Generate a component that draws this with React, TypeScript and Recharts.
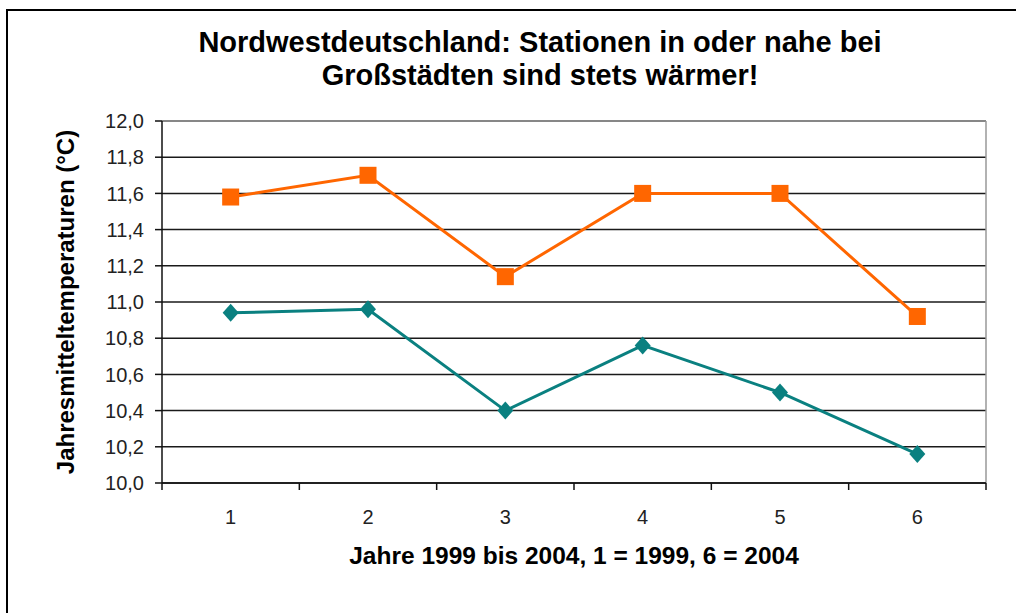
import { LineChart, Line, XAxis, YAxis, CartesianGrid, ReferenceLine } from 'recharts';

const years = [1, 2, 3, 4, 5, 6];
const cityTemps = [11.58, 11.7, 11.14, 11.6, 11.6, 10.92];
const ruralTemps = [10.94, 10.96, 10.4, 10.76, 10.5, 10.16];
const yTicks = [10.0, 10.2, 10.4, 10.6, 10.8, 11.0, 11.2, 11.4, 11.6, 11.8, 12.0];

const titleLines = [
  'Nordwestdeutschland: Stationen in oder nahe bei',
  'Großstädten sind stets wärmer!',
];
const xTitle = 'Jahre 1999 bis 2004, 1 = 1999, 6 = 2004';
const yTitle = 'Jahresmitteltemperaturen (°C)';

const FONT = '"Liberation Sans", Arial, sans-serif';

const chartData = years.map((x, i) => ({ x, city: cityTemps[i], rural: ruralTemps[i] }));
// tick marks sit between the categories, labels sit on them
const boundaries = [years[0] - 0.5, ...years.map((y) => y + 0.5)];
const xTicks = [...boundaries, ...years].sort((a, b) => a - b);

const fmt = (v: number) => v.toFixed(1).replace('.', ',');

const XTick = ({ x, y, payload }: any) => {
  const v = payload.value;
  if (Number.isInteger(v)) {
    return (
      <text x={x} y={y + 34} textAnchor="middle" dominantBaseline="central" fill="#222" fontSize={20} fontFamily={FONT}>
        {v}
      </text>
    );
  }
  return <line x1={x} x2={x} y1={y} y2={y + 7} stroke="#111" strokeWidth={1.5} />;
};

const SquareDot = ({ cx, cy, index }: any) => (
  <rect key={`sq-${index}`} x={cx - 8.5} y={cy - 8.5} width={17} height={17} fill="#FF6600" />
);

const DiamondDot = ({ cx, cy, index }: any) => (
  <polygon
    key={`dm-${index}`}
    points={`${cx},${cy - 9} ${cx + 8},${cy} ${cx},${cy + 9} ${cx - 8},${cy}`}
    fill="#0A8080"
  />
);

export default function App() {
  return (
    <div style={{ position: 'absolute', left: 0, top: 0, width: 1016, height: 613, overflow: 'hidden', background: '#fff' }}>
      {/* outer frame, only left and top edges visible in the crop */}
      <div
        style={{
          position: 'absolute',
          left: 6,
          top: 9,
          width: 1100,
          height: 700,
          borderLeft: '2px solid #000',
          borderTop: '2px solid #000',
        }}
      />
      {titleLines.map((t, i) => (
        <div
          key={i}
          style={{
            position: 'absolute',
            left: 0,
            width: 1080,
            top: 26 + i * 33,
            height: 33,
            lineHeight: '33px',
            textAlign: 'center',
            fontFamily: FONT,
            fontWeight: 'bold',
            fontSize: 29,
            color: '#000',
          }}
        >
          {t}
        </div>
      ))}
      <div style={{ position: 'absolute', left: 0, top: 0 }}>
        <LineChart width={1016} height={613} data={chartData} margin={{ top: 121, right: 30, bottom: 90, left: 102 }}>
          <CartesianGrid horizontal vertical={false} stroke="#1a1a1a" strokeWidth={1.5} />
          <ReferenceLine y={12} stroke="#999" strokeWidth={1.5} />
          <ReferenceLine x={6.5} stroke="#999" strokeWidth={1.5} />
          <XAxis
            dataKey="x"
            type="number"
            domain={[0.5, 6.5]}
            ticks={xTicks}
            interval={0}
            tick={<XTick />}
            tickLine={false}
            tickSize={0}
            tickMargin={0}
            axisLine={{ stroke: '#111', strokeWidth: 1.5 }}
            height={40}
            label={({ viewBox }: any) => (
              <text
                x={viewBox.x + viewBox.width / 2}
                y={viewBox.y + 72}
                textAnchor="middle"
                dominantBaseline="central"
                fontFamily={FONT}
                fontWeight="bold"
                fontSize={24.5}
                fill="#000"
              >
                {xTitle}
              </text>
            )}
          />
          <YAxis
            type="number"
            domain={[10, 12]}
            ticks={yTicks}
            interval={0}
            width={60}
            tickFormatter={fmt}
            tickSize={7}
            tickMargin={11}
            tick={{ fill: '#222', fontSize: 20, fontFamily: FONT }}
            tickLine={{ stroke: '#111', strokeWidth: 1.5 }}
            axisLine={{ stroke: '#111', strokeWidth: 1.5 }}
            label={({ viewBox }: any) => {
              const cx = 65;
              const cy = viewBox.y + viewBox.height / 2;
              return (
                <text
                  x={cx}
                  y={cy}
                  transform={`rotate(-90 ${cx} ${cy})`}
                  textAnchor="middle"
                  dominantBaseline="central"
                  fontFamily={FONT}
                  fontWeight="bold"
                  fontSize={24}
                  fill="#000"
                >
                  {yTitle}
                </text>
              );
            }}
          />
          <Line
            dataKey="rural"
            stroke="#0A8080"
            strokeWidth={3}
            dot={<DiamondDot />}
            activeDot={false}
            isAnimationActive={false}
          />
          <Line
            dataKey="city"
            stroke="#FF6600"
            strokeWidth={3}
            dot={<SquareDot />}
            activeDot={false}
            isAnimationActive={false}
          />
        </LineChart>
      </div>
    </div>
  );
}
